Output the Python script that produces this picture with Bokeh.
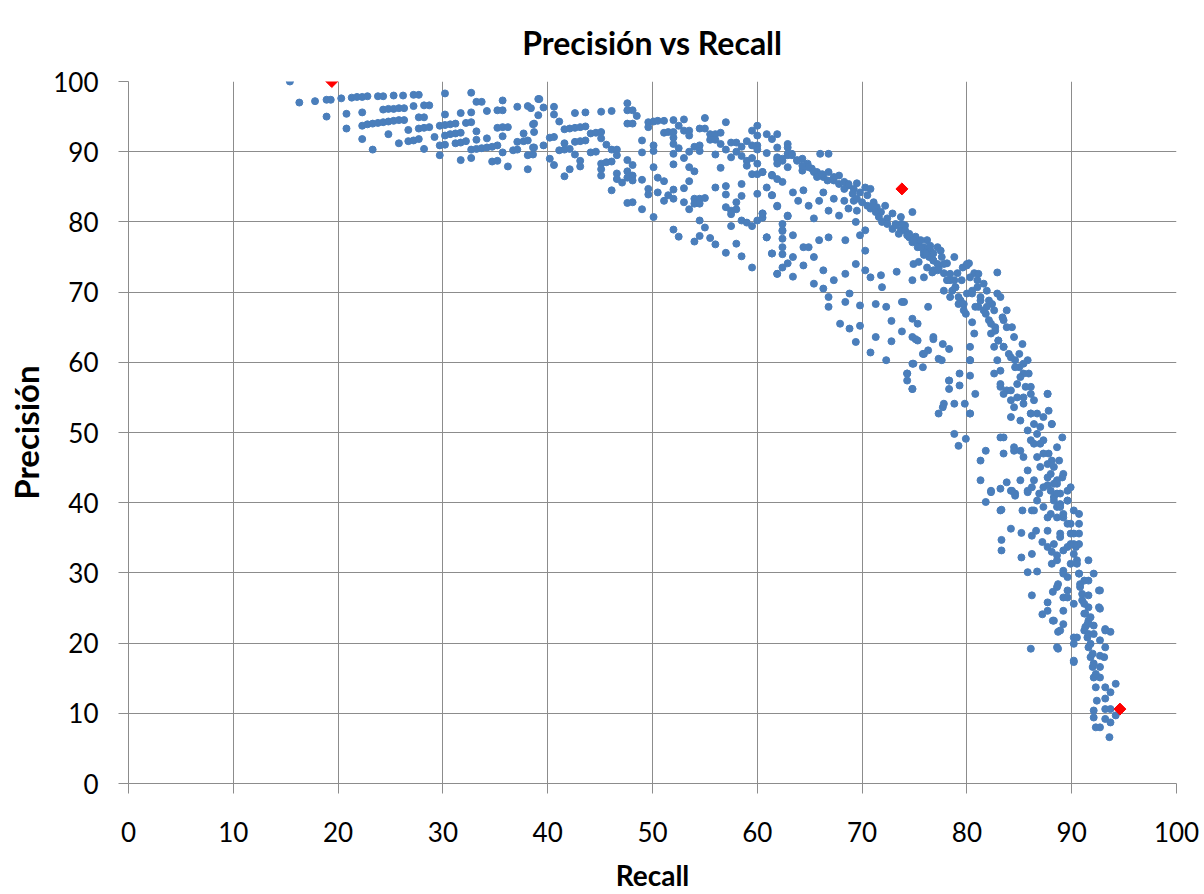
import math
from bokeh.plotting import figure
from bokeh.models import Range1d, FixedTicker
from bokeh.embed import file_html
from bokeh.resources import INLINE

# (recall, precision) pairs, grouped by region
pts_top = [
    (15.4,100),(16.3,97.0),(17.8,97.2),(18.9,97.4),(19.3,97.4),(18.9,95.0),(20.3,97.6),(21.3,97.7),(21.8,97.8),(22.3,97.8),
    (22.8,97.9),(23.8,97.9),(24.3,97.9),(25.3,98.0),(26.2,98.0),(27.2,98.1),(27.7,98.1),(30.2,98.3),(32.7,98.4),(33.2,97.1),
    (33.7,97.1),(35.7,97.3),(37.1,96.4),(38.1,96.5),(39.1,97.5),(20.8,95.4),(22.3,95.6),(24.3,96.0),(24.8,96.1),(25.3,96.1),
    (25.8,96.2),(26.3,96.2),(27.2,96.5),(28.2,96.6),(28.7,96.6),(30.2,95.3),(31.7,95.5),(32.7,95.6),(34.2,95.8),(35.2,95.9),
    (35.7,95.9),(27.7,94.9),(28.2,94.9),(20.8,93.3),(22.3,93.7),(22.8,93.9),(23.3,94.0),(23.8,94.1),(24.3,94.2),(24.8,94.3),
    (25.3,94.4),(25.8,94.5),(26.3,94.5),(26.7,93.1),(27.7,93.3),(28.2,93.4),(28.7,93.5),(24.8,92.5),(29.2,92.1),(29.7,93.7),
    (30.2,93.8),(30.7,93.9),(31.2,94.0),(32.2,94.1),(32.7,94.2),(30.2,92.3),(30.7,92.5),(31.2,92.6),(31.7,92.7),(33.2,92.9),
    (35.2,93.4),(35.7,93.5),(36.2,93.5),(35.7,92.2),(37.7,92.6),(38.6,93.9),(39.1,95.2),(22.3,91.8),(25.8,91.2),(26.7,91.5),
    (27.2,91.6),(27.7,91.8),(23.3,90.3),(28.2,90.4),(29.7,90.9),(30.2,91.0),(31.2,91.2),(31.7,91.3),(32.2,91.5),(33.2,91.7),
    (34.2,91.9),(32.7,90.3),(33.2,90.4),(33.7,90.5),(34.2,90.6),(34.7,90.7),(35.2,90.9),(37.1,91.4),(37.7,91.5),(38.1,91.6),
    (38.6,90.6),(29.7,89.5),(31.7,88.8),(32.7,89.1),(34.7,88.6),(35.2,88.7),(35.7,89.9),(36.7,90.2),(37.1,90.3),(36.2,87.9),
    (38.1,89.5),(38.6,89.6),(38.1,87.5),
]
pts_mid = [
    (39.2,97.5),(38.4,96.2),(38.7,94.0),(38.7,92.8),(39.6,96.3),(40.6,96.4),(40.6,95.3),(41.1,94.3),(41.6,93.2),(42.1,93.3),
    (42.6,93.4),(43.1,93.5),(43.6,93.6),(42.6,95.5),(43.6,95.6),(45.1,95.7),(46.1,95.8),(47.6,96.9),(47.6,95.9),(48.1,95.9),
    (48.5,95.1),(47.6,94.0),(48.1,94.0),(38.7,90.6),(39.6,90.9),(40.2,92.0),(40.6,92.1),(41.6,91.2),(42.6,91.4),(43.1,91.5),
    (43.6,91.6),(41.1,90.2),(41.6,90.3),(42.1,90.4),(44.1,92.6),(44.6,92.7),(45.1,92.8),(45.1,91.9),(44.1,89.9),(44.6,90.0),
    (45.6,91.0),(46.1,90.3),(46.6,90.3),(46.6,89.5),(42.6,89.6),(43.1,88.7),(43.1,87.9),(40.2,89.0),(40.6,88.1),(42.1,87.5),
    (41.6,86.5),(45.1,88.3),(45.1,87.5),(45.1,86.6),(45.6,88.5),(46.1,88.6),(46.6,86.9),(46.6,86.1),(47.1,85.6),(46.1,84.5),
    (47.6,88.8),(47.6,87.2),(47.6,86.3),(48.1,88.1),(48.1,86.6),(48.1,85.9),(47.6,82.7),(48.1,82.8),(49.0,86.0),(49.0,81.8),
    (49.0,91.6),(49.0,89.9),(49.6,94.2),(49.6,93.5),(50.1,94.3),(50.5,94.4),(51.1,94.4),(50.1,90.9),(50.1,90.1),(50.1,87.8),
    (49.6,84.7),(49.6,83.9),(50.1,80.7),(50.5,86.3),(51.1,85.8),(50.5,84.2),(51.1,83.0),(51.5,83.8),(52.0,84.6),(52.0,83.3),
    (51.1,92.7),(51.5,92.8),(52.0,94.5),(52.0,92.8),(52.0,92.0),(52.0,91.1),(52.0,89.7),(52.0,88.2),(52.5,93.7),(52.5,90.5),
    (53.0,94.6),(53.0,93.0),(53.0,89.1),(53.5,93.0),(53.5,92.3),(53.5,90.0),(53.5,87.8),(54.0,90.7),(54.0,87.2),(53.0,84.8),
    (53.0,82.8),(53.5,85.8),(53.5,81.8),(54.0,83.3),(54.0,82.6),(54.5,83.3),(54.5,82.6),(55.0,83.4),(54.5,93.3),(54.5,90.9),
    (54.5,90.1),(55.0,94.8),(55.0,93.3),(55.5,92.5),(55.5,91.7),(56.0,92.5),(56.0,91.7),(56.5,92.7),(56.0,89.6),(56.5,91.1),
    (56.5,87.7),(57.0,94.2),(57.0,90.3),(57.5,91.3),(57.5,89.2),(58.0,91.3),(58.0,90.0),(58.5,90.7),(58.5,89.4),(54.5,80.2),
    (55.0,79.2),(55.5,77.7),(56.0,76.8),(54.0,77.2),(54.5,78.0),(52.0,78.9),(52.5,77.9),(56.0,84.9),(57.0,85.1),(57.0,83.9),
    (57.0,82.1),(57.5,81.6),(57.5,81.1),(58.0,82.8),(58.0,81.8),(58.5,85.4),(58.5,83.7),(58.5,80.2),(59.0,79.9),(59.5,79.4),
    (57.0,75.6),(57.5,79.4),(58.0,76.9),(58.5,75.1),(59.5,73.5),(59.0,91.5),(59.0,88.7),(59.0,88.0),(59.5,93.0),(59.5,90.9),
    (59.5,89.1),(59.5,86.8),(60.0,93.7),(60.0,92.3),(60.0,90.9),(60.0,90.3),(60.0,88.3),(60.0,86.8),(60.0,84.0),(60.0,80.2),
    (60.5,87.1),(60.5,81.2),(60.5,80.6),(60.9,92.5),(60.9,89.8),(60.9,77.8),(61.4,91.8),(61.4,86.6),(61.4,83.8),(61.4,75.5),
    (61.9,92.5),(61.9,90.6),(61.9,88.9),(61.9,86.1),(61.9,82.2),(61.9,72.6),(62.4,88.7),(62.4,85.7),(62.4,79.7),(62.4,78.7),
    (62.4,77.6),(62.4,75.4),(62.9,91.1),(62.9,89.5),(62.9,80.8),(62.9,74.1),
]
pts_knee = [
    (61.9,89.2),(61.9,88.3),(62.4,89.0),(62.9,89.7),(62.9,87.8),(63.3,89.5),(63.8,88.8),(64.3,89.0),(64.3,87.3),(64.8,88.3),
    (65.2,87.6),(65.7,87.1),(66.0,89.7),(66.3,86.4),(66.8,89.7),(66.8,87.1),(67.3,85.9),(67.8,86.6),(68.3,85.7),(68.7,85.2),
    (69.2,84.7),(69.5,85.5),(69.8,84.2),(70.3,84.9),(70.5,83.8),(70.8,84.7),(71.1,82.8),(71.4,82.1),(71.8,81.4),(72.2,82.3),
    (72.4,80.5),(72.9,81.2),(73.2,79.7),(73.7,80.7),(73.7,78.8),(74.1,79.5),(74.5,78.3),(74.8,81.4),(75.1,77.9),(75.4,77.2),
    (75.9,76.4),(75.9,75.3),(76.2,77.4),(76.5,76.0),(76.8,74.5),(77.2,76.4),(77.3,73.4),(77.6,75.0),(77.8,72.7),(78.1,74.1),
    (78.4,71.7),(78.6,70.2),(78.9,70.7),(79.1,72.7),(79.4,68.8),(79.5,71.7),(79.9,66.9),(80.0,69.8),(80.2,74.1),(80.5,65.7),
    (80.7,72.7),(81.0,70.7),(81.1,67.9),(80.7,64.1),(80.3,62.2),
    (60.9,77.8),(61.4,75.5),(61.9,72.6),(62.4,78.8),(62.4,76.4),(62.4,73.5),(63.4,78.1),(63.4,75.0),(63.4,72.2),(64.4,76.4),
    (64.4,73.8),(64.9,76.4),(65.4,75.0),(65.4,71.2),(65.9,77.4),(66.3,73.1),(66.3,70.5),(66.8,77.8),(66.8,69.3),(66.8,67.9),
    (67.3,71.7),(67.9,65.5),(68.4,77.4),(68.4,72.6),(68.4,68.6),(68.8,69.8),(68.8,64.8),(69.4,80.0),(69.4,74.0),(69.4,62.9),
    (69.8,68.1),(69.8,65.2),(70.3,75.9),(70.3,73.1),(70.8,72.1),(70.8,61.4),(71.3,68.3),(71.3,63.6),(71.8,72.4),(71.9,70.7),
    (72.3,67.9),(72.3,60.3),(72.8,65.9),(72.8,63.0),(73.3,72.9),(73.8,68.6),(73.8,64.4),(74.3,58.4),(74.3,57.4),(74.8,71.7),
    (74.8,66.2),(74.8,63.6),(74.8,59.8),(74.8,56.2),(75.3,65.5),(75.3,63.1),(75.8,61.2),(75.8,59.3),(76.3,61.7),(76.3,67.9),
    (76.8,63.6),(77.3,60.5),(77.7,62.6),(77.7,53.6),(78.3,61.9),(78.3,57.4),(78.3,56.2),(78.8,54.1),(79.3,58.4),(79.3,56.7),
    (79.8,54.1),(80.3,60.3),(80.3,58.1),(80.3,52.7),
    (60.5,87.1),(60.5,81.2),(60.9,84.9),(61.4,83.8),(61.9,82.3),(62.9,80.9),(61.4,86.7),(63.4,84.2),(63.9,83.0),(64.4,84.5),
    (64.9,82.3),(65.4,80.5),(65.9,83.0),(66.3,84.2),(66.8,81.6),(67.3,83.3),(67.8,80.9),(68.3,83.0),(68.7,81.9),(69.2,83.0),
    (69.5,81.6),(69.8,78.1),(70.3,78.8),
]
pts_band = [
    (74.9,74.0),(75.9,72.1),(76.8,73.1),(77.8,70.2),(78.4,69.3),(78.8,71.7),(79.2,68.3),(79.7,67.4),(80.0,73.8),(80.5,69.8),
    (81.0,71.7),(81.3,68.8),(81.6,67.4),(81.9,70.2),(82.1,66.0),(82.4,68.3),(82.7,65.0),(82.9,72.8),(83.0,63.1),(83.2,69.3),
    (83.5,62.2),(83.8,67.4),(84.0,61.2),(84.3,65.0),(84.6,60.3),(85.0,59.3),(85.3,62.6),(85.4,58.4),(85.8,60.3),(86.1,56.5),
    (86.4,54.6),(86.7,52.7),(87.0,50.8),(87.3,48.9),(87.7,55.5),(87.8,47.0),(88.1,51.2),(88.3,45.1),(88.6,43.2),(88.9,41.3),
    (89.2,44.1),(89.6,40.3),(89.9,42.2),(90.2,38.9),(89.1,49.3),(88.1,46.0),
    (81.9,67.9),(82.3,64.1),(82.6,62.2),(82.9,60.3),(83.2,58.8),(83.5,66.0),(83.8,56.0),(84.2,54.6),(84.5,53.6),(84.8,56.9),
    (85.1,51.7),(85.4,55.0),(85.8,50.3),(86.1,52.7),(86.4,48.4),(86.7,46.5),(87.0,45.1),(87.3,52.2),(87.7,43.6),(88.0,41.7),
    (88.3,40.3),(88.6,47.9),(84.2,52.2),(83.2,56.5),(82.6,58.4),(83.5,49.3),(84.5,47.9),(85.1,47.4),(85.8,44.6),(86.4,43.2),
    (86.7,40.3),(87.3,39.4),(88.0,38.4),(88.6,39.4),
    (74.0,68.6),(74.3,58.4),(74.8,56.2),(74.9,59.8),(75.1,63.3),(75.9,61.2),(76.8,63.3),(77.3,52.7),(77.6,60.3),(77.8,54.1),
    (78.3,57.4),(78.8,49.8),(79.2,48.1),(79.9,49.1),(80.3,52.7),(80.3,60.3),(80.8,55.5),(81.3,46.0),(81.3,43.2),(81.8,47.4),
    (82.3,41.7),(83.2,38.9),(83.8,42.9),(84.6,41.3),(85.3,38.9),(85.8,41.7),(86.2,38.9),
]
pts_tail = [
    (81.8,40.1),(82.3,41.5),(83.2,42.0),(84.2,41.7),(84.6,41.0),(85.8,41.5),(86.2,42.2),(86.9,41.3),(87.7,42.5),(88.3,40.8),
    (88.6,42.7),(88.9,39.4),(89.2,37.9),(89.6,40.3),(89.9,37.0),(90.2,35.6),(90.4,33.7),(90.5,31.8),(90.7,29.9),(90.8,28.0),
    (91.0,26.1),(91.2,24.2),(91.3,22.3),(91.5,20.8),(91.6,19.4),(91.8,18.0),(92.0,16.6),(92.1,15.1),(92.3,13.7),(92.4,11.8),
    (92.1,10.4),(92.1,9.4),(92.3,8.0),(92.7,8.0),(93.2,10.6),(93.2,9.2),(93.7,10.6),(93.7,8.7),(93.6,6.6),(94.2,9.7),
    (94.2,14.2),(93.7,13.0),(93.2,12.1),(93.2,13.7),(92.7,15.1),(92.7,18.2),(92.7,24.9),(92.7,27.5),(93.2,19.4),(93.2,22.0),
    (93.7,21.6),(92.1,29.9),(91.6,31.8),(90.7,38.4),(90.7,37.0),(90.7,35.6),(90.7,34.1),(84.2,36.3),(85.2,35.7),(86.2,35.3),
    (85.2,32.2),(86.2,32.7),(83.3,34.7),(83.3,33.2),(83.3,39.0),(85.8,30.1),(86.7,30.2),(86.2,26.8),(87.7,25.8),(87.7,24.6),
    (87.2,24.1),(88.2,23.2),(88.7,21.6),(88.7,19.2),(89.2,22.7),(90.2,17.3),(89.2,30.3),(88.7,28.4),(89.6,29.4),(88.2,27.3),
    (89.2,26.5),(89.6,27.5),(90.2,25.6),(90.2,20.8),(90.2,19.9),(91.2,21.8),(91.6,26.8),(91.6,25.1),(91.2,28.9),(91.6,23.2),
    (92.1,22.5),(92.1,21.3),(87.7,36.0),(87.2,34.4),(87.7,33.7),(88.1,33.0),(88.1,31.3),(88.6,32.5),(88.9,35.6),(89.6,33.7),
    (89.9,31.3),(86.1,19.2),
]
pts_dense = [
    (62.9,90.6),(63.3,89.7),(63.8,88.7),(64.3,88.0),(64.9,87.8),(65.4,87.1),(65.7,86.4),(66.2,86.8),(66.7,85.9),(67.3,86.4),
    (67.8,85.4),(68.3,84.7),(68.7,85.4),(69.1,84.0),(69.5,83.3),(70.0,82.8),(70.5,82.3),(70.8,81.9),(71.3,81.4),(71.6,80.7),
    (71.9,80.0),(72.4,79.7),(72.9,79.0),(73.2,79.5),(73.5,78.3),(73.8,79.7),(74.1,78.8),(74.5,77.8),(74.8,77.1),(75.3,76.4),
    (75.6,77.4),(75.9,75.7),(76.4,75.0),(76.8,75.5),(77.2,74.0),(75.4,74.3),(76.2,73.5),(76.7,72.8),
    (74.3,78.1),(74.9,77.4),(75.6,76.4),(76.1,75.5),(76.5,76.6),(76.8,74.5),(77.2,73.1),(77.5,75.9),(77.8,74.0),(78.1,71.7),
    (78.4,72.6),(78.8,75.0),(78.9,70.7),(79.2,69.3),(79.6,73.5),(79.7,68.3),(80.0,74.0),(80.3,72.1),(80.5,70.2),(80.8,67.9),
    (81.1,72.6),(81.3,69.3),(81.6,71.2),(81.8,66.9),(82.1,68.8),(82.3,65.5),(82.6,67.4),(82.7,64.5),(82.9,69.8),(83.0,63.1),
    (83.4,66.4),(83.5,62.2),(83.8,65.0),(84.2,60.7),(84.5,63.6),(84.6,59.3),(85.0,61.2),(85.1,57.9),(85.4,59.8),(85.6,56.5),
    (85.9,58.4),(86.1,55.5),(84.2,56.0),(83.2,56.9),
    (83.5,55.5),(84.8,55.0),(85.4,54.1),(86.1,52.7),(86.4,51.2),(86.7,49.8),(87.0,48.4),(87.3,47.0),(87.7,45.5),(88.0,44.1),
    (88.3,42.7),(88.6,41.3),(88.9,39.8),(89.2,38.4),(89.6,37.0),(89.9,35.6),(90.2,34.1),(87.7,55.5),(87.8,53.1),(88.1,51.2),
    (88.8,46.0),(89.1,43.6),(89.6,41.7),(86.1,48.9),(85.4,46.5),(84.5,47.4),(83.2,49.3),(83.5,47.0),(84.3,41.7),(85.1,43.2),
    (87.3,42.2),(88.6,37.9),(88.9,35.1),(87.7,37.9),(86.4,38.9),(86.6,36.0),(88.3,34.1),
    (89.9,34.1),(90.2,32.7),(90.5,31.3),(90.7,29.9),(90.8,28.4),(91.0,27.0),(91.2,25.6),(91.3,24.2),(91.5,22.7),(91.6,21.3),
    (91.8,19.9),(92.0,18.5),(92.1,17.1),(92.3,15.6),(89.2,33.2),(88.6,31.8),(89.2,29.9),(88.6,28.0),(89.6,26.5),(89.2,24.6),
    (88.3,23.2),(88.9,21.8),(90.5,20.8),(91.8,23.7),(91.6,28.9),(92.6,27.5),(92.6,25.1),(93.2,21.8),(92.7,20.4),(88.6,19.4),
    (90.2,17.5),(92.7,16.6),(93.1,18.0),
]
best_recall = [19.4, 73.8, 94.6]
best_precision = [100.0, 84.7, 10.6]

all_pts = pts_top + pts_mid + pts_knee + pts_band + pts_tail + pts_dense
recall = [p[0] for p in all_pts]
precision = [p[1] for p in all_pts]

FONT = "Lato"
GRID = "#8c8c8c"

p = figure(width=1204, height=894, output_backend="svg", toolbar_location=None,
           x_range=Range1d(0, 100), y_range=Range1d(0, 100),
           min_border_left=128, min_border_right=28, min_border_top=81, min_border_bottom=111,
           title="Precisión vs Recall")
p.outline_line_color = None
p.background_fill_color = "white"
p.border_fill_color = "white"

p.title.align = "center"
p.title.vertical_align = "top"
p.title.text_font = FONT
p.title.text_font_size = "32px"
p.title.text_font_style = "bold"
p.title.text_color = "black"
p.title.standoff = 36

ticks = list(range(0, 101, 10))
for ax in (p.xaxis[0], p.yaxis[0]):
    ax.ticker = FixedTicker(ticks=ticks)
    ax.minor_tick_line_color = None
    ax.major_tick_in = 0
    ax.major_tick_out = 10
    ax.major_tick_line_color = GRID
    ax.axis_line_color = GRID
    ax.major_label_text_font = FONT
    ax.major_label_text_font_size = "26px"
    ax.major_label_text_color = "black"
    ax.axis_label_text_font = FONT
    ax.axis_label_text_font_style = "bold"
    ax.axis_label_text_color = "black"

p.xaxis.axis_label = "Recall"
p.xaxis.axis_label_text_font_size = "28px"
p.xaxis.major_label_standoff = 28
p.xaxis.axis_label_standoff = 13
p.yaxis.axis_label = "Precisión"
p.yaxis.axis_label_text_font_size = "33px"
p.yaxis.major_label_standoff = 20
p.yaxis.axis_label_standoff = 4

p.xgrid.grid_line_color = GRID
p.ygrid.grid_line_color = GRID
p.xgrid.grid_line_width = 1
p.ygrid.grid_line_width = 1

p.scatter(recall, precision, marker="circle", size=7, fill_color="#4a7ebb", line_color="#4a7ebb")
p.scatter(best_recall, best_precision, marker="square", angle=math.pi / 4, size=8.5,
          fill_color="#ff0000", line_color="#ff0000")

open("out.html", "w").write(file_html(p, INLINE))
